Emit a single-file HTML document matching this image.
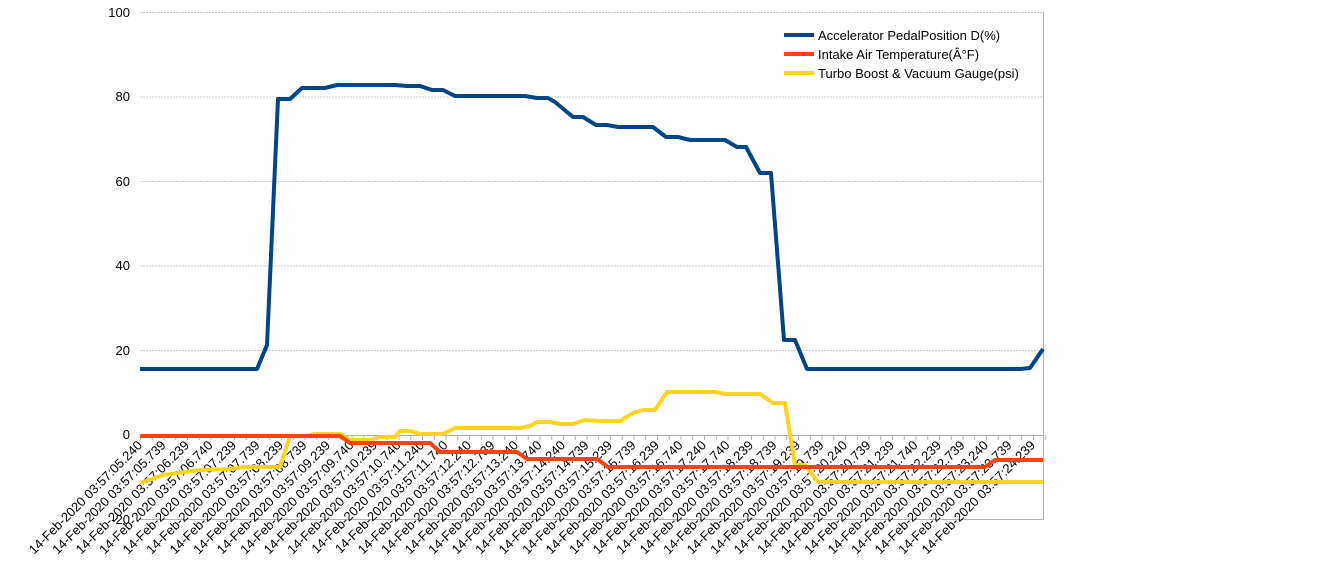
<!DOCTYPE html>
<html><head><meta charset="utf-8"><style>
body{margin:0;background:#fff;}
svg{display:block;font-family:"Liberation Sans",sans-serif;}
</style></head><body>
<svg width="1323" height="575" viewBox="0 0 1323 575">
<g stroke="#c8c8c8" stroke-width="1" stroke-dasharray="2,1">
<line x1="140" y1="12.5" x2="1043" y2="12.5"/>
<line x1="140" y1="97" x2="1043" y2="97"/>
<line x1="140" y1="181.5" x2="1043" y2="181.5"/>
<line x1="140" y1="266" x2="1043" y2="266"/>
<line x1="140" y1="350.5" x2="1043" y2="350.5"/>
</g>
<line x1="140" y1="519.5" x2="1043" y2="519.5" stroke="#b3b3b3"/>
<line x1="140" y1="435.5" x2="1043" y2="435.5" stroke="#b3b3b3"/>
<line x1="1043.5" y1="12" x2="1043.5" y2="520" stroke="#b3b3b3"/>
<g id="ticks" stroke="#b3b3b3"></g>
<g font-size="13" fill="#000" text-anchor="end">
<text x="130" y="17">100</text>
<text x="130" y="101">80</text>
<text x="130" y="186">60</text>
<text x="130" y="270">40</text>
<text x="130" y="355">20</text>
<text x="130" y="439">0</text>
<text x="130" y="524">-20</text>
</g>
<g id="xl" font-size="13" fill="#000" text-anchor="end"></g>
<polyline fill="none" stroke="#ffd320" stroke-width="4" stroke-linejoin="round" points="140,483 163,475 200,470 230,469 245,467 280,467 290,436 305,436 315,434 340,434 350,440 370,440 380,437 395,437 400,431 410,431 420,434 443,434 455,428 520,428 530,426 537,422 550,422 560,424 573,424 585,420 600,421 620,421 633,413 643,410 655,410 667,392 715,392 725,394 760,394 773,403 785,403 795,465 805,465 818,482 1043,482"/>
<polyline fill="none" stroke="#ff420e" stroke-width="4" stroke-linejoin="round" points="140,436 340,436 350,443 430,443 440,452 517,452 527,459 597,459 608,467 985,467 995,460 1043,460"/>
<polyline fill="none" stroke="#004586" stroke-width="4" stroke-linejoin="round" points="140,369 257,369 267,345 278,99 290,99 302,88 325,88 337,85 395,85 407,86 420,86 432,90 443,90 455,96 525,96 537,98 548,98 555,102 573,117 583,117 596,125 607,125 618,127 653,127 666,137 678,137 690,140 725,140 737,147 746,147 760,173 771,173 784,340 795,340 807,369 1020,369 1030,368 1043,349"/>
<g font-size="13" fill="#000">
<rect x="784" y="33" width="30" height="4" fill="#004586"/><text x="818" y="40">Accelerator PedalPosition D(%)</text>
<rect x="784" y="52" width="30" height="4" fill="#ff420e"/><text x="818" y="59">Intake Air Temperature(Â°F)</text>
<rect x="784" y="71" width="30" height="4" fill="#ffd320"/><text x="818" y="78">Turbo Boost &amp; Vacuum Gauge(psi)</text>
</g>
</svg>
<script>
var labs="05.240 05.739 06.239 06.740 07.239 07.739 08.239 08.739 09.239 09.740 10.239 10.740 11.240 11.740 12.240 12.739 13.240 13.740 14.240 14.739 15.239 15.739 16.239 16.740 17.240 17.740 18.239 18.739 19.239 19.739 20.240 20.739 21.239 21.740 22.239 22.739 23.240 23.739 24.239".split(" ");
var ns="http://www.w3.org/2000/svg",g=document.getElementById("xl"),t=document.getElementById("ticks");
for(var i=0;i<labs.length;i++){var x=140+i*23.5;var e=document.createElementNS(ns,"text");e.setAttribute("transform","translate("+(x+3)+",446) rotate(-45)");e.textContent="14-Feb-2020 03:57:"+labs[i];g.appendChild(e);}
for(var j=0;j<78;j++){var x2=140.5+j*11.75;var l=document.createElementNS(ns,"line");l.setAttribute("x1",x2);l.setAttribute("x2",x2);l.setAttribute("y1",435);l.setAttribute("y2",440);t.appendChild(l);}
</script>
</body></html>
